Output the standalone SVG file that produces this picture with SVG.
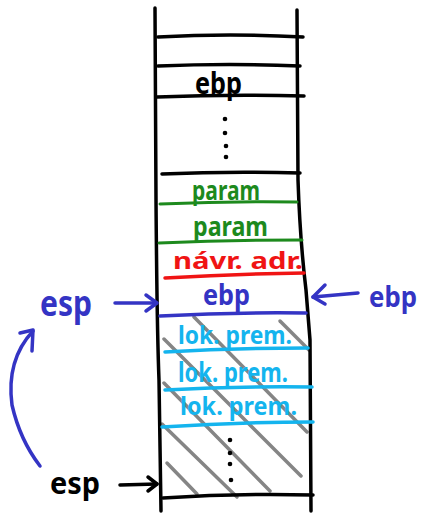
<svg xmlns="http://www.w3.org/2000/svg" width="426" height="513" viewBox="0 0 426 513">
  <style>
    .ink { fill: none; stroke-linecap: round; stroke-linejoin: round; }
    .blk { stroke: #000; stroke-width: 3.5; }
    .grn { stroke: #1d8a1d; stroke-width: 3; }
    .red { stroke: #f01414; stroke-width: 3.5; }
    .blu { stroke: #3434c4; stroke-width: 3.5; }
    .cyn { stroke: #14b4ee; stroke-width: 3.5; }
    .hat { stroke: #858585; stroke-width: 3.5; }
    .dot { fill: #000; }
    text { font-family: "Noto Sans", "DejaVu Sans", sans-serif; font-weight: bold; text-anchor: start; }
    .t-blk { fill: #000; }
    .t-grn { fill: #1d8a1d; }
    .t-red { fill: #f01414; }
    .t-blu { fill: #3434c4; }
    .t-cyn { fill: #14b4ee; }
  </style>

  <!-- hatching over the local-variable area -->
  <g id="hatch" class="ink hat">
    <path d="M194,317 L307,432"/>
    <path d="M280,321 L309,350"/>
    <path d="M164,339 L301,476"/>
    <path d="M164,383 L270,491"/>
    <path d="M162,424 L237,497"/>
    <path d="M167,463 L197,494"/>
  </g>

  <!-- stack walls -->
  <g id="stack-walls" class="ink blk">
    <path d="M155,8 L156,200 Q157,330 159,380 L161,511"/>
    <path d="M297,10 L298,180 Q300,240 306,290 L310,340 L311,511"/>
  </g>

  <g id="cell-top-1" class="ink blk">
    <path d="M158,37 Q230,33 303,37"/>
  </g>
  <g id="cell-top-2" class="ink blk">
    <path d="M158,66 Q230,63 300,66"/>
  </g>
  <g id="cell-old-ebp">
    <path class="ink blk" d="M157,97 Q230,94 304,96"/>
    <text class="t-blk" x="195" y="94" font-size="30" textLength="47" lengthAdjust="spacingAndGlyphs">ebp</text>
  </g>
  <g id="cell-gap-top">
    <circle class="dot" cx="225" cy="119" r="2.3"/>
    <circle class="dot" cx="225" cy="133" r="2.3"/>
    <circle class="dot" cx="226" cy="146" r="2.3"/>
    <circle class="dot" cx="226" cy="157" r="2.3"/>
    <path class="ink blk" d="M162,174 Q230,171 300,173"/>
  </g>
  <g id="cell-param-1">
    <text class="t-grn" x="192" y="200" font-size="27" textLength="68" lengthAdjust="spacingAndGlyphs">param</text>
    <path class="ink grn" d="M160,204 Q230,201 297,202"/>
  </g>
  <g id="cell-param-2">
    <text class="t-grn" x="193" y="236" font-size="27" textLength="75" lengthAdjust="spacingAndGlyphs">param</text>
    <path class="ink grn" d="M159,243 Q230,240 302,240"/>
  </g>
  <g id="cell-ret-addr">
    <text class="t-red" x="173" y="269" font-size="23" textLength="130" lengthAdjust="spacingAndGlyphs">návr. adr.</text>
    <path class="ink red" d="M165,278 Q235,274 304,273"/>
  </g>
  <g id="cell-saved-ebp">
    <text class="t-blu" x="203" y="305" font-size="29" textLength="47" lengthAdjust="spacingAndGlyphs">ebp</text>
    <path class="ink blu" d="M160,316 Q235,312 306,313"/>
  </g>
  <g id="cell-local-1">
    <text class="t-cyn" x="178" y="344" font-size="25" textLength="114" lengthAdjust="spacingAndGlyphs">lok. prem.</text>
    <path class="ink cyn" d="M165,352 Q235,348 308,348"/>
  </g>
  <g id="cell-local-2">
    <text class="t-cyn" x="178" y="382" font-size="26" textLength="110" lengthAdjust="spacingAndGlyphs">lok. prem.</text>
    <path class="ink cyn" d="M165,390 Q238,386 312,387"/>
  </g>
  <g id="cell-local-3">
    <text class="t-cyn" x="180" y="415" font-size="25" textLength="117" lengthAdjust="spacingAndGlyphs">lok. prem.</text>
    <path class="ink cyn" d="M162,427 Q238,422 313,422"/>
  </g>
  <g id="cell-gap-bottom">
    <circle class="dot" cx="230" cy="440" r="2.3"/>
    <circle class="dot" cx="230" cy="453" r="2.3"/>
    <circle class="dot" cx="230" cy="464" r="2.3"/>
    <circle class="dot" cx="231" cy="480" r="2.3"/>
    <path class="ink blk" d="M163,498 Q238,493 313,495"/>
  </g>

  <!-- register labels -->
  <g id="label-esp-left">
    <text class="t-blu" x="40" y="316" font-size="35" textLength="52" lengthAdjust="spacingAndGlyphs">esp</text>
  </g>
  <g id="label-ebp-right">
    <text class="t-blu" x="369" y="307" font-size="28" textLength="48" lengthAdjust="spacingAndGlyphs">ebp</text>
  </g>
  <g id="label-esp-bottom">
    <text class="t-blk" x="50" y="494" font-size="31" textLength="50" lengthAdjust="spacingAndGlyphs">esp</text>
  </g>

  <!-- pointer arrows -->
  <g id="connectors" class="ink">
    <g class="blu">
      <path d="M115,303 L156,303"/>
      <path d="M146,295 L157,303 L146,311"/>
      <path d="M358,293 L313,297"/>
      <path d="M325,285 L313,297 L325,304"/>
      <path d="M40,466 Q20,440 12,405 Q6,360 33,331"/>
      <path d="M20,333 L33,330 L32,351"/>
    </g>
    <g class="blk">
      <path d="M120,485 L157,484"/>
      <path d="M148,477 L157,484 L148,491"/>
    </g>
  </g>
</svg>
